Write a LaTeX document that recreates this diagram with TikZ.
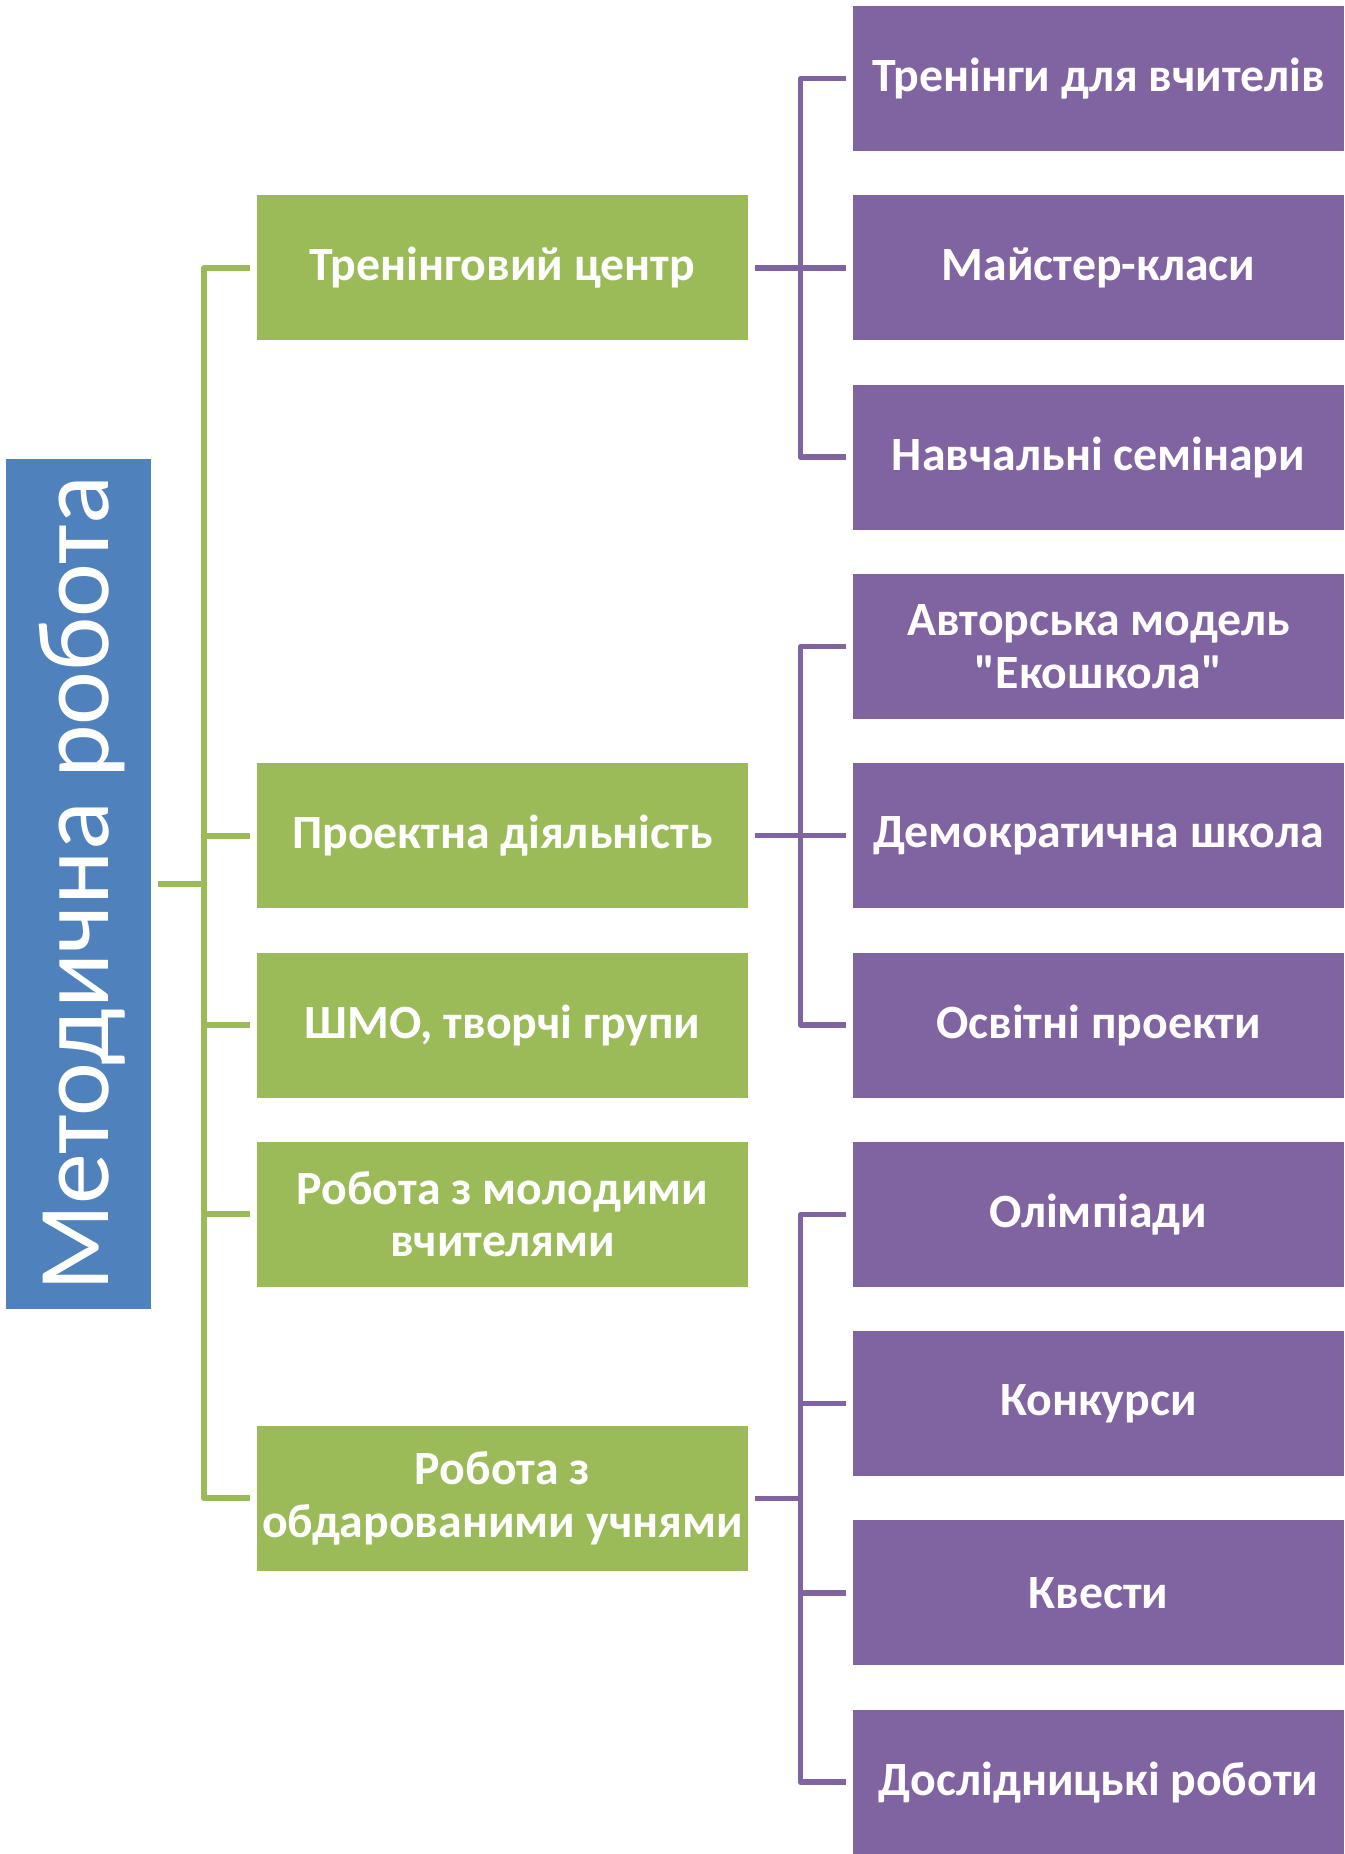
\documentclass[tikz,border=0pt]{standalone}
\usepackage{fontspec}
\setmainfont{Carlito}[Ligatures=TeXOff]
\usepackage{tikz}
\usetikzlibrary{positioning,calc}
\definecolor{mgreen}{HTML}{9BBB59}
\definecolor{mpurple}{HTML}{8064A2}
\definecolor{mblue}{HTML}{4F81BD}
\tikzset{
  grbox/.style={fill=mgreen, text=white, minimum width=4.91cm, minimum height=1.45cm, inner sep=0pt, align=center, font=\fontsize{13.6}{15}\selectfont\bfseries},
  pubox/.style={grbox, fill=mpurple},
  grline/.style={draw=mgreen, line width=.06cm, line join=round},
  puline/.style={draw=mpurple, line width=.055cm, line join=round}
}

\begin{document}
\begin{tikzpicture}
			\useasboundingbox (0,0) rectangle (13.44,-18.54);
			%leftpart
			\node[fill=mblue, text=white, minimum width=1.45cm, minimum height=8.5cm, inner sep=0pt, font=\fontsize{29}{35}\selectfont](meth) at (0.785,-8.84){\rotatebox{90}{\raisebox{-0.035cm}[\height][\depth]{Методична робота}}};
			%middle column
			\node[grbox](g1) at (5.025,{-0.785-1.893*1}){Тренінговий центр};
			\node[grbox](g2) at (5.025,{-0.785-1.893*4}){Проектна діяльність};
			\node[grbox](g3) at (5.025,{-0.785-1.893*5}){ШМО, творчі групи};
			\node[grbox](g4) at (5.025,{-0.785-1.893*6}){Робота з молодими\\вчителями};
			\node[grbox](g5) at (5.025,{-0.785-1.893*7.5}){Робота з\\обдарованими учнями};
			%rightpart
			\foreach \i/\t in {0/Тренінги для вчителів, 1/Майстер-класи, 2/Навчальні семінари, 3/{Авторська модель\\"Екошкола"}, 4/Демократична школа, 5/Освітні проекти, 6/Олімпіади, 7/Конкурси, 8/Квести, 9/Дослідницькі роботи}
			\node[pubox](p\i) at (10.985,{-0.785-1.893*\i}){\t};
			%green tree
			\coordinate (gx) at (2.04,0);
			\draw[grline] ([xshift=.06cm]meth.east) -- (gx|-meth.east);
			\draw[grline] ([xshift=-.06cm]g1.west) -| (gx|-g5.west) -- ([xshift=-.06cm]g5.west);
			\foreach \n in {g2,g3,g4}
			\draw[grline] (gx|-\n.west) -- ([xshift=-.06cm]\n.west);
			%purple trees
			\coordinate (px) at (8.005,0);
			\draw[puline] ([xshift=-.06cm]p0.west) -| (px|-p2.west) -- ([xshift=-.06cm]p2.west);
			\draw[puline] ([xshift=.06cm]g1.east) -- ([xshift=-.06cm]p1.west);
			\draw[puline] ([xshift=-.06cm]p3.west) -| (px|-p5.west) -- ([xshift=-.06cm]p5.west);
			\draw[puline] ([xshift=.06cm]g2.east) -- ([xshift=-.06cm]p4.west);
			\draw[puline] ([xshift=-.06cm]p6.west) -| (px|-p9.west) -- ([xshift=-.06cm]p9.west);
			\draw[puline] ([xshift=.06cm]g5.east) -- (px|-g5.east);
			\foreach \n in {p7,p8}
			\draw[puline] (px|-\n.west) -- ([xshift=-.06cm]\n.west);
\end{tikzpicture}
\end{document}
